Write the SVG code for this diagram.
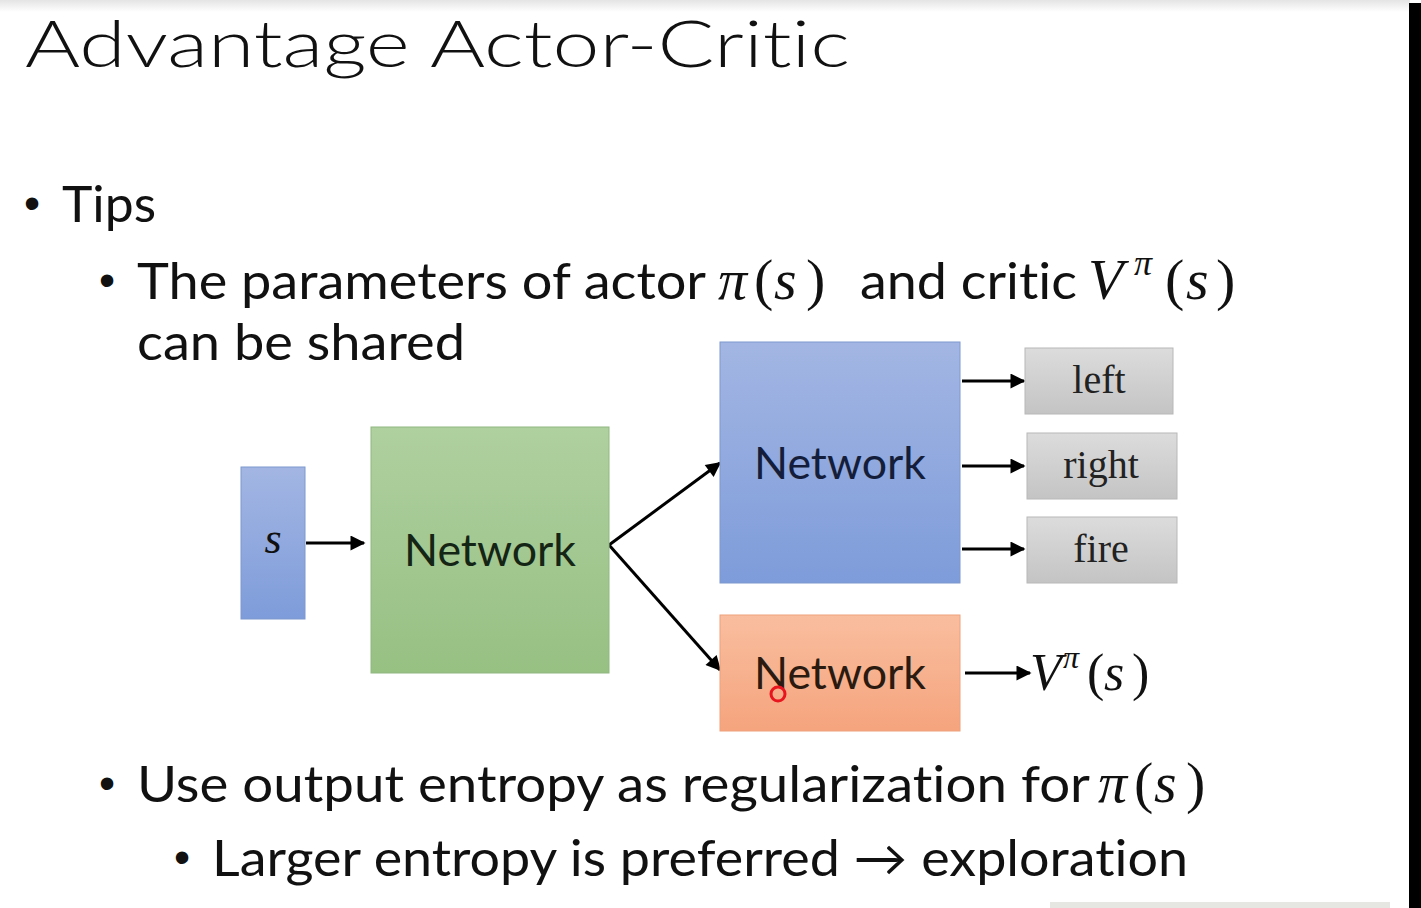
<svg xmlns="http://www.w3.org/2000/svg" width="1421" height="908" viewBox="0 0 1421 908">
<style>
.body{font-family:Lato,"Open Sans","Liberation Sans",sans-serif;font-size:50px;fill:#111;font-variant-ligatures:none}
.bul{font-family:"Liberation Sans",sans-serif;font-size:46px;fill:#111}
.math{font-family:"Liberation Serif","DejaVu Serif",serif;fill:#111}
.it{font-style:italic}
.net{font-family:Lato,"Open Sans","Liberation Sans",sans-serif;font-size:45px;text-anchor:middle}
.opt{font-family:"Liberation Serif","Times New Roman",serif;font-size:40px;fill:#222;text-anchor:middle}
.conn{stroke:#000;stroke-width:3;fill:none;marker-end:url(#ah)}
</style>
<defs>
<marker id="ah" viewBox="0 0 10 10" refX="9" refY="5" markerWidth="6" markerHeight="5" orient="auto" markerUnits="strokeWidth">
<path d="M0,0 L10,5 L0,10 z" fill="#000"/>
</marker>
<linearGradient id="gBlue" x1="0" y1="0" x2="0" y2="1"><stop offset="0" stop-color="#A3B6E3"/><stop offset="1" stop-color="#7E9CDA"/></linearGradient>
<linearGradient id="gGreen" x1="0" y1="0" x2="0" y2="1"><stop offset="0" stop-color="#AFD09F"/><stop offset="1" stop-color="#97C083"/></linearGradient>
<linearGradient id="gOrange" x1="0" y1="0" x2="0" y2="1"><stop offset="0" stop-color="#F9BE9F"/><stop offset="1" stop-color="#F5A47D"/></linearGradient>
<linearGradient id="gGrey" x1="0" y1="0" x2="0" y2="1"><stop offset="0" stop-color="#DCDCDC"/><stop offset="1" stop-color="#C4C4C4"/></linearGradient>
<linearGradient id="gTop" x1="0" y1="0" x2="0" y2="1"><stop offset="0" stop-color="#E4E4E4"/><stop offset="1" stop-color="#FFFFFF"/></linearGradient>
</defs>
<rect x="0" y="0" width="1421" height="908" fill="#FFFFFF"/>
<rect x="0" y="0" width="1410" height="12" fill="url(#gTop)"/>
<rect x="1409" y="3" width="12" height="905" fill="#000"/>
<rect x="1050" y="902" width="340" height="6" fill="#E6E6E2"/>

<g id="title">
<text x="25" y="67" font-family="Lato,'Open Sans','Liberation Sans',sans-serif" font-weight="300" font-size="66" fill="#111" style="font-variant-ligatures:none" textLength="825" lengthAdjust="spacingAndGlyphs">Advantage Actor-Critic</text>
</g>

<g id="bullets">
<text class="bul" x="24" y="219">•</text>
<text class="body" x="62" y="222" textLength="94" lengthAdjust="spacingAndGlyphs">Tips</text>
<text class="bul" x="99" y="296">•</text>
<text class="body" x="137" y="299" textLength="569" lengthAdjust="spacingAndGlyphs">The parameters of actor</text>
<text class="math" y="299" font-size="58"><tspan class="it" x="718">π</tspan><tspan x="754">(</tspan><tspan class="it" x="774">s</tspan><tspan x="806">)</tspan></text>
<text class="body" x="860" y="299" textLength="217" lengthAdjust="spacingAndGlyphs">and critic</text>
<text class="math" y="299" font-size="58"><tspan class="it" x="1088">V</tspan><tspan class="it" x="1134" y="275" font-size="36">π</tspan><tspan x="1165" y="299">(</tspan><tspan class="it" x="1186">s</tspan><tspan x="1216">)</tspan></text>
<text class="body" x="137" y="360" textLength="328" lengthAdjust="spacingAndGlyphs">can be shared</text>
<text class="bul" x="99" y="799">•</text>
<text class="body" x="137" y="802" textLength="953" lengthAdjust="spacingAndGlyphs">Use output entropy as regularization for</text>
<text class="math" y="802" font-size="58"><tspan class="it" x="1098">π</tspan><tspan x="1134">(</tspan><tspan class="it" x="1154">s</tspan><tspan x="1186">)</tspan></text>
<text class="bul" x="174" y="873">•</text>
<text class="body" x="212" y="876" textLength="976" lengthAdjust="spacingAndGlyphs">Larger entropy is preferred → exploration</text>
</g>

<g id="connectors">
<line class="conn" x1="306" y1="543" x2="364" y2="543"/>
<line class="conn" x1="609" y1="545" x2="720" y2="463"/>
<line class="conn" x1="609" y1="545" x2="720" y2="670"/>
<line class="conn" x1="962" y1="381" x2="1024" y2="381"/>
<line class="conn" x1="962" y1="466" x2="1024" y2="466"/>
<line class="conn" x1="962" y1="549" x2="1024" y2="549"/>
<line class="conn" x1="965" y1="673" x2="1030" y2="673"/>
</g>

<g id="node-s">
<rect x="241" y="467" width="64" height="152" fill="url(#gBlue)" stroke="#7F98CF" stroke-width="1"/>
<text class="math it" x="273" y="553" font-size="44" fill="#1F2D5A" text-anchor="middle">s</text>
</g>

<g id="node-shared">
<rect x="371" y="427" width="238" height="246" fill="url(#gGreen)" stroke="#90B880" stroke-width="1"/>
<text class="net" x="490" y="566" fill="#152515" textLength="172" lengthAdjust="spacingAndGlyphs">Network</text>
</g>

<g id="node-actor">
<rect x="720" y="342" width="240" height="241" fill="url(#gBlue)" stroke="#7F98CF" stroke-width="1"/>
<text class="net" x="840" y="479" fill="#141E3A" textLength="172" lengthAdjust="spacingAndGlyphs">Network</text>
</g>

<g id="node-critic">
<rect x="720" y="615" width="240" height="116" fill="url(#gOrange)" stroke="#EFA07C" stroke-width="1"/>
<text class="net" x="840" y="689" fill="#2A1A10" textLength="172" lengthAdjust="spacingAndGlyphs">Network</text>
<circle cx="778" cy="694" r="7" fill="none" stroke="#E8141E" stroke-width="3"/>
</g>

<g id="node-left">
<rect x="1025" y="348" width="148" height="66" fill="url(#gGrey)" stroke="#B8B8B8" stroke-width="1"/>
<text class="opt" x="1099" y="393">left</text>
</g>
<g id="node-right">
<rect x="1027" y="433" width="150" height="66" fill="url(#gGrey)" stroke="#B8B8B8" stroke-width="1"/>
<text class="opt" x="1101" y="478">right</text>
</g>
<g id="node-fire">
<rect x="1027" y="517" width="150" height="66" fill="url(#gGrey)" stroke="#B8B8B8" stroke-width="1"/>
<text class="opt" x="1101" y="562">fire</text>
</g>

<g id="node-value">
<text class="math" y="690" font-size="52"><tspan class="it" x="1030">V</tspan><tspan class="it" x="1063" y="668" font-size="32">π</tspan><tspan x="1087" y="690">(</tspan><tspan class="it" x="1104">s</tspan><tspan x="1132">)</tspan></text>
</g>
</svg>
